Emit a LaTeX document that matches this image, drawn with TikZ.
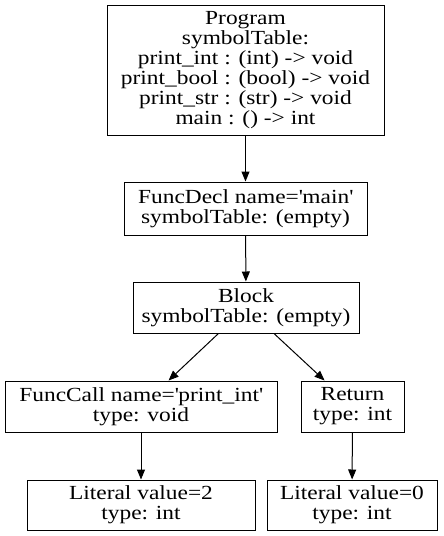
\documentclass[tikz,border=0pt]{standalone}
\usepackage{fontspec}
\setmainfont[FakeStretch=1.17]{Liberation Serif}
\usetikzlibrary{arrows.meta}
\newcommand{\sq}{\textquotesingle}
\begin{document}
\begin{tikzpicture}[x=1pt,y=-1pt,
  box/.style={draw, line width=1pt, align=center, inner sep=0pt,
    font=\fontsize{20}{20}\selectfont},
  edge/.style={line width=1pt, -{Triangle[length=10pt,width=8pt]}}]
\useasboundingbox (0,0) rectangle (444,536);
\node[box, minimum width=277pt, minimum height=130pt] (prog) at (245.5,70.5)
  {Program\\symbolTable:\\print\_int : (int) -> void\\print\_bool : (bool) -> void\\print\_str : (str) -> void\\main : () -> int};
\node[box, minimum width=243pt, minimum height=53pt] (fdecl) at (245.5,208.5)
  {FuncDecl name=\sq main\sq\\symbolTable: (empty)};
\node[box, minimum width=226pt, minimum height=51pt] (block) at (246,307.5)
  {Block\\symbolTable: (empty)};
\node[box, minimum width=272pt, minimum height=51pt] (fcall) at (141,406.5)
  {FuncCall name=\sq print\_int\sq\\type: void};
\node[box, minimum width=103pt, minimum height=51pt] (ret) at (352.5,406.5)
  {Return\\type: int};
\node[box, minimum width=228pt, minimum height=50pt] (lit2) at (141,505)
  {Literal value=2\\type: int};
\node[box, minimum width=170pt, minimum height=50pt] (lit0) at (352,505)
  {Literal value=0\\type: int};
\draw[edge] (prog) -- (fdecl);
\draw[edge] (fdecl) -- (block);
\draw[edge] (block) -- (fcall);
\draw[edge] (block) -- (ret);
\draw[edge] (fcall) -- (lit2);
\draw[edge] (ret) -- (lit0);
\end{tikzpicture}
\end{document}
